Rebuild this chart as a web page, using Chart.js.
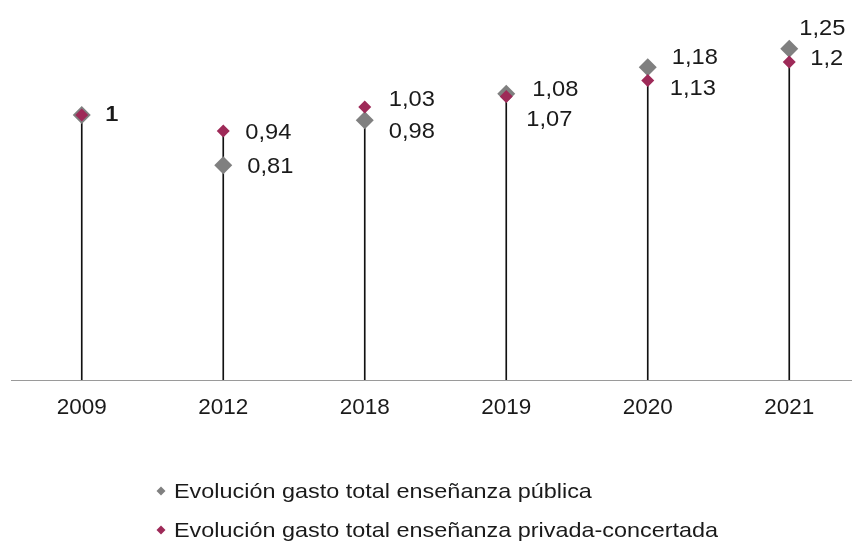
<!DOCTYPE html>
<html lang="es">
<head>
  <meta charset="UTF-8" />
  <title>Evolución gasto total enseñanza</title>
  <script src="https://cdn.jsdelivr.net/npm/chart.js"></script>
  <style>
    html, body { margin: 0; padding: 0; background: #fff; overflow: hidden; }
    canvas { display: block; }
  </style>
</head>
<body>
  <canvas id="gastoChart" width="852" height="543"></canvas>

  <script>
    // data
    const years = ['2009', '2012', '2018', '2019', '2020', '2021'];
    const gastoPublica = [1, 0.81, 0.98, 1.08, 1.18, 1.25];
    const gastoPrivada = [1, 0.94, 1.03, 1.07, 1.13, 1.2];
    const seriesNames = [
      'Evolución gasto total enseñanza pública',
      'Evolución gasto total enseñanza privada-concertada'
    ];

    const GREY = '#808080';
    const MAROON = '#9E2A58';
    const TEXT = '#1a1a1a';
    const FONT = 'Arial, "Liberation Sans", sans-serif';

    // label offsets from each point (px), [dx, dy]
    const publicaShift = [[24, 0], [24, 2], [24, 12], [26, -4], [24, -9], [10, -20]];
    const privadaShift = [[23, 0], [22, 2], [24, -7], [20, 23], [22, 8], [21, -3]];

    // drop line goes to the higher of the two points
    const dropTop = years.map((_, i) => Math.max(gastoPublica[i], gastoPrivada[i]));

    const fmt = v => String(v).replace('.', ',');

    // the original text is a bit wider than Arial, so stretch it a little
    function wideText(ctx, text, x, y, sx) {
      ctx.save();
      ctx.translate(x, y);
      ctx.scale(sx, 1);
      ctx.fillText(text, 0, 0);
      ctx.restore();
    }

    // in the original the plot area runs a bit past the right edge
    const overhang = {
      id: 'overhang',
      afterLayout(chart) {
        const sx = chart.scales.x;
        sx.left = 11;
        sx.right = 860;
        sx.width = sx.right - sx.left;
        chart.chartArea.left = sx.left;
        chart.chartArea.right = sx.right;
        chart.chartArea.width = sx.width;
        sx.configure();
      }
    };

    const valueLabels = {
      id: 'valueLabels',
      afterDatasetsDraw(chart) {
        const ctx = chart.ctx;
        ctx.save();
        ctx.font = '22px ' + FONT;
        ctx.fillStyle = TEXT;
        ctx.textAlign = 'left';
        ctx.textBaseline = 'middle';
        [[1, publicaShift], [2, privadaShift]].forEach(([idx, shift]) => {
          const meta = chart.getDatasetMeta(idx);
          const vals = chart.data.datasets[idx].data;
          meta.data.forEach((pt, i) => {
            wideText(ctx, fmt(vals[i]), pt.x + shift[i][0], pt.y + shift[i][1], 1.077);
          });
        });
        ctx.restore();
      }
    };

    const bottomLegend = {
      id: 'bottomLegend',
      afterDraw(chart) {
        const ctx = chart.ctx;
        const colors = [GREY, MAROON];
        ctx.save();
        ctx.font = '21px ' + FONT;
        ctx.textBaseline = 'middle';
        ctx.textAlign = 'left';
        seriesNames.forEach((name, i) => {
          const y = 491 + i * 39;
          const x = 161;
          ctx.fillStyle = colors[i];
          ctx.beginPath();
          ctx.moveTo(x - 4.5, y);
          ctx.lineTo(x, y - 4.5);
          ctx.lineTo(x + 4.5, y);
          ctx.lineTo(x, y + 4.5);
          ctx.closePath();
          ctx.fill();
          ctx.fillStyle = TEXT;
          wideText(ctx, name, 174, y + 1, 1.115);
        });
        ctx.restore();
      }
    };

    const ctx = document.getElementById('gastoChart').getContext('2d');
    const gastoChart = new Chart(ctx, {
      type: 'bar',
      data: {
        labels: years,
        datasets: [
          {
            type: 'bar',
            label: 'drop',
            data: dropTop,
            backgroundColor: '#111',
            barThickness: 1,
            order: 3
          },
          {
            type: 'line',
            label: seriesNames[0],
            data: gastoPublica,
            showLine: false,
            pointStyle: 'rectRot',
            pointRadius: 9,
            pointBorderWidth: 0,
            pointBackgroundColor: GREY,
            pointBorderColor: GREY,
            order: 2
          },
          {
            type: 'line',
            label: seriesNames[1],
            data: gastoPrivada,
            showLine: false,
            pointStyle: 'rectRot',
            pointRadius: 6.5,
            pointBorderWidth: 0,
            pointBackgroundColor: MAROON,
            pointBorderColor: MAROON,
            order: 1
          }
        ]
      },
      options: {
        responsive: false,
        animation: false,
        layout: { padding: { left: 11, right: 0, top: 5, bottom: 108 } },
        plugins: {
          legend: { display: false },
          tooltip: { enabled: false }
        },
        scales: {
          x: {
            offset: true,
            grid: { display: false, drawTicks: false },
            border: { display: true, color: '#9a9a9a', width: 1 },
            ticks: {
              color: TEXT,
              padding: 14,
              font: { family: FONT, size: 22.5 }
            }
          },
          y: {
            display: false,
            min: 0,
            max: 1.4
          }
        }
      },
      plugins: [overhang, valueLabels, bottomLegend]
    });
  </script>
</body>
</html>
